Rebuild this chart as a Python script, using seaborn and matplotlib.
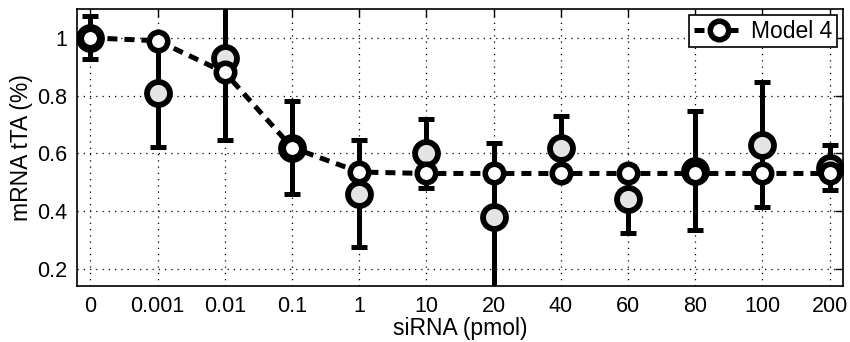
import numpy as np
import pandas as pd
import matplotlib
matplotlib.use("Agg")
import matplotlib.pyplot as plt
import seaborn as sns

# ---- data ----
categories = ["0", "0.001", "0.01", "0.1", "1", "10", "20", "40", "60", "80", "100", "200"]
data_mean = [1.00, 0.81, 0.93, 0.62, 0.46, 0.60, 0.38, 0.62, 0.44, 0.54, 0.63, 0.55]
data_err = [0.075, 0.19, 0.285, 0.16, 0.185, 0.12, 0.255, 0.11, 0.115, 0.205, 0.217, 0.077]
model_vals = [1.00, 0.99, 0.88, 0.62, 0.535, 0.53, 0.53, 0.53, 0.53, 0.53, 0.53, 0.53]
y_ticks = [0.2, 0.4, 0.6, 0.8, 1.0]
y_ticklabels = ["0.2", "0.4", "0.6", "0.8", "1"]

sns.set_style("white")
plt.rcParams["font.family"] = ["Liberation Sans", "DejaVu Sans"]
plt.rcParams["text.color"] = "black"
plt.rcParams["axes.labelcolor"] = "black"
plt.rcParams["xtick.color"] = "black"
plt.rcParams["ytick.color"] = "black"

fig = plt.figure(figsize=(8.5, 3.42), dpi=100)
ax = fig.add_axes([77 / 850, 1 - 286 / 342, (843 - 77) / 850, (286 - 9) / 342])

xpos = np.arange(len(categories))
df = pd.DataFrame({"x": xpos, "model": model_vals, "mean": data_mean})

# experimental data with error bars
ax.errorbar(xpos, data_mean, yerr=data_err, fmt="none", ecolor="black",
            elinewidth=3.6, capsize=5.5, capthick=3.6, zorder=2)
ax.plot(xpos, data_mean, linestyle="none", marker="o", markersize=16.5,
        markerfacecolor="#e4e4e4", markeredgecolor="black", markeredgewidth=4.2,
        zorder=3)

# model line
sns.lineplot(data=df, x="x", y="model", ax=ax, color="black", linewidth=3.6,
             marker="o", markersize=13.3, markerfacecolor="white",
             markeredgecolor="black", markeredgewidth=4.0, label="Model 4",
             zorder=4)
ax.lines[-1].set_dashes((2.0, 1.4))

ax.set_xlim(-0.2, len(categories) - 1 + 0.2)
ax.set_ylim(0.14, 1.1)
ax.set_xticks(xpos)
ax.set_xticklabels(categories, fontsize=15.5, color="black")
ax.set_yticks(y_ticks)
ax.set_yticklabels(y_ticklabels, fontsize=15.5, color="black")
ax.set_xlabel("siRNA (pmol)", fontsize=16.5, labelpad=0, color="black")
ax.set_ylabel("mRNA tTA (%)", fontsize=16.5, labelpad=3, color="black")

ax.grid(True, linestyle=(0, (1, 4)), color="black", linewidth=0.9)
ax.tick_params(direction="in", length=6, width=1, top=True, right=True,
               pad=7, colors="black")
for s in ax.spines.values():
    s.set_color("black")
    s.set_linewidth(1.2)

leg = ax.legend(loc="upper right", bbox_to_anchor=((837 - 77) / 766, 1 - 6 / 277),
                fontsize=16.5, frameon=True, fancybox=False, edgecolor="black",
                framealpha=1, handlelength=2.2, handletextpad=0.3,
                borderpad=0.2, borderaxespad=0)
leg.get_frame().set_linewidth(1.2)
for t in leg.get_texts():
    t.set_color("black")

fig.savefig("out.png", dpi=100)
